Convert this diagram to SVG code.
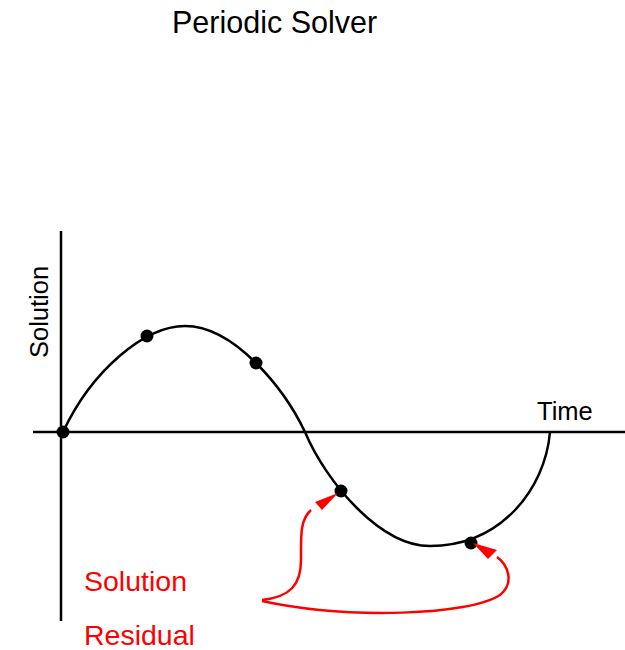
<svg xmlns="http://www.w3.org/2000/svg" width="625" height="650" viewBox="0 0 625 650">
<style>
text{font-family:"Liberation Sans",Arial,sans-serif}
.ax{stroke:#000;stroke-width:2.5;fill:none}
.cv{stroke:#000;stroke-width:2.5;fill:none}
.rd{stroke:#f00;stroke-width:2.5;fill:none}
.dot{fill:#000}
.ah{fill:#f00}
</style>
<rect width="625" height="650" fill="#fff"/>
<text id="title" x="172" y="33" font-size="30.5">Periodic Solver</text>
<g id="axes">
<line class="ax" x1="33" y1="432" x2="625" y2="432"/>
<line class="ax" x1="61" y1="231" x2="61" y2="621"/>
<text x="537" y="420" font-size="25.5">Time</text>
<text transform="translate(48,358) rotate(-90)" font-size="25.5">Solution</text>
</g>
<g id="curve">
<path class="cv" d="M63,432 C92,370 145,326 185,326 C235,326 285,390 305,432 C326,482 380,546 430,546 C500,546 545,490 550,432"/>
</g>
<g id="points">
<circle class="dot" cx="63" cy="432" r="6.5"/>
<circle class="dot" cx="147" cy="336" r="6.5"/>
<circle class="dot" cx="256" cy="363" r="6.5"/>
<circle class="dot" cx="341" cy="491" r="6.5"/>
<circle class="dot" cx="471" cy="543" r="6.5"/>
</g>
<g id="connectors">
<path class="rd" d="M262,600 C290,597 301,585 301,560 C301,535 300,520 311,510"/>
<polygon class="ah" points="338,493 315,502 322,510"/>
<path class="rd" d="M262,601 C350,620 470,615 500,595 C515,583 508,565 497,557"/>
<polygon class="ah" points="473,543 497,550 488,559"/>
</g>
<g id="legend">
<text x="84" y="591" font-size="28.5" fill="#f00">Solution</text>
<text x="84" y="645" font-size="28.5" fill="#f00">Residual</text>
</g>
</svg>
